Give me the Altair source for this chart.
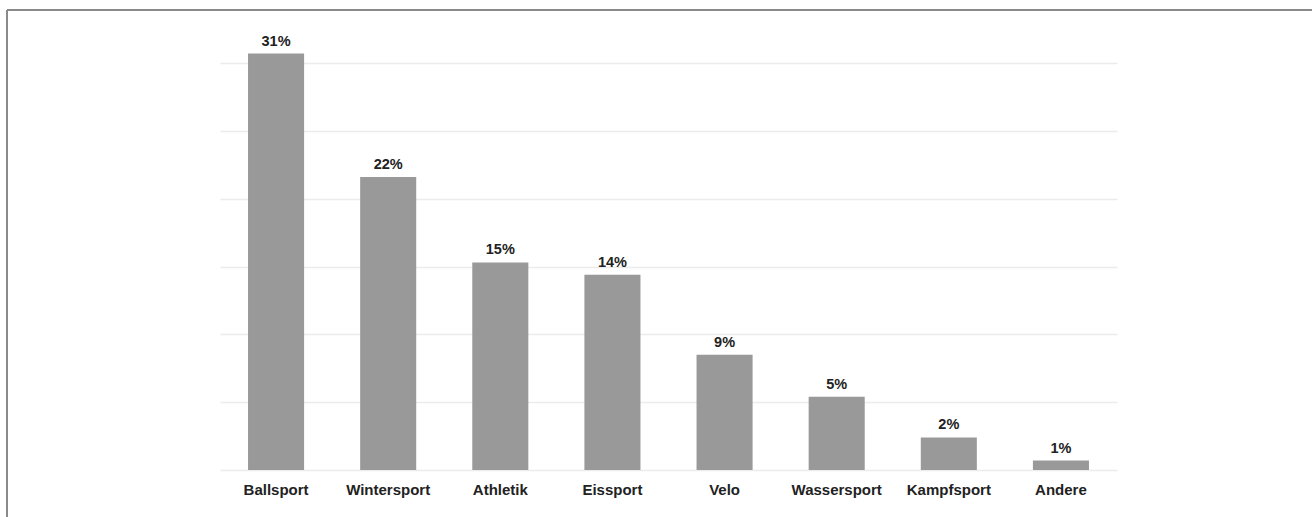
import altair as alt
import pandas as pd

categories = ["Ballsport", "Wintersport", "Athletik", "Eissport", "Velo", "Wassersport", "Kampfsport", "Andere"]
values = [30.7, 21.6, 15.3, 14.4, 8.5, 5.4, 2.4, 0.7]
labels = ["31%", "22%", "15%", "14%", "9%", "5%", "2%", "1%"]

df = pd.DataFrame({"cat": categories, "val": values, "lab": labels})

FONT = "Liberation Sans"

x = alt.X("cat:N", sort=categories, title=None,
          scale=alt.Scale(paddingInner=0.5, paddingOuter=0.25),
          axis=alt.Axis(labelAngle=0, labelFontSize=15, labelFontWeight="bold",
                        labelColor="#222222", labelFont=FONT, ticks=False,
                        domain=False, labelPadding=12, grid=False))
y = alt.Y("val:Q", title=None,
          scale=alt.Scale(domain=[0, 30], nice=False),
          axis=alt.Axis(values=[0, 5, 10, 15, 20, 25, 30], labels=False, ticks=False,
                        domain=False, gridColor="#ececec", gridWidth=1.5))

bars = alt.Chart(df).mark_bar(color="#999999").encode(x=x, y=y)
text = alt.Chart(df).mark_text(dy=-12, fontSize=14.5, fontWeight="bold", color="#222222",
                               font=FONT).encode(x=alt.X("cat:N", sort=categories), y="val:Q", text="lab:N")

border_top = alt.Chart(df).mark_rule(color="#8a8a8a", strokeWidth=1.5).encode(
    x=alt.value(-213), x2=alt.value(1200), y=alt.value(-53))
border_left = alt.Chart(df).mark_rule(color="#8a8a8a", strokeWidth=1.5).encode(
    x=alt.value(-213), y=alt.value(-53), y2=alt.value(500))

chart = alt.layer(bars, text, border_top, border_left).properties(
    width=897, height=407,
    padding={"left": 220, "top": 63, "right": 195, "bottom": 47},
    autosize=alt.AutoSizeParams(type="none"),
).configure(background="white", view=alt.ViewConfig(stroke="transparent"))

chart.save("out.html", embed_options={"renderer": "svg", "actions": False})
